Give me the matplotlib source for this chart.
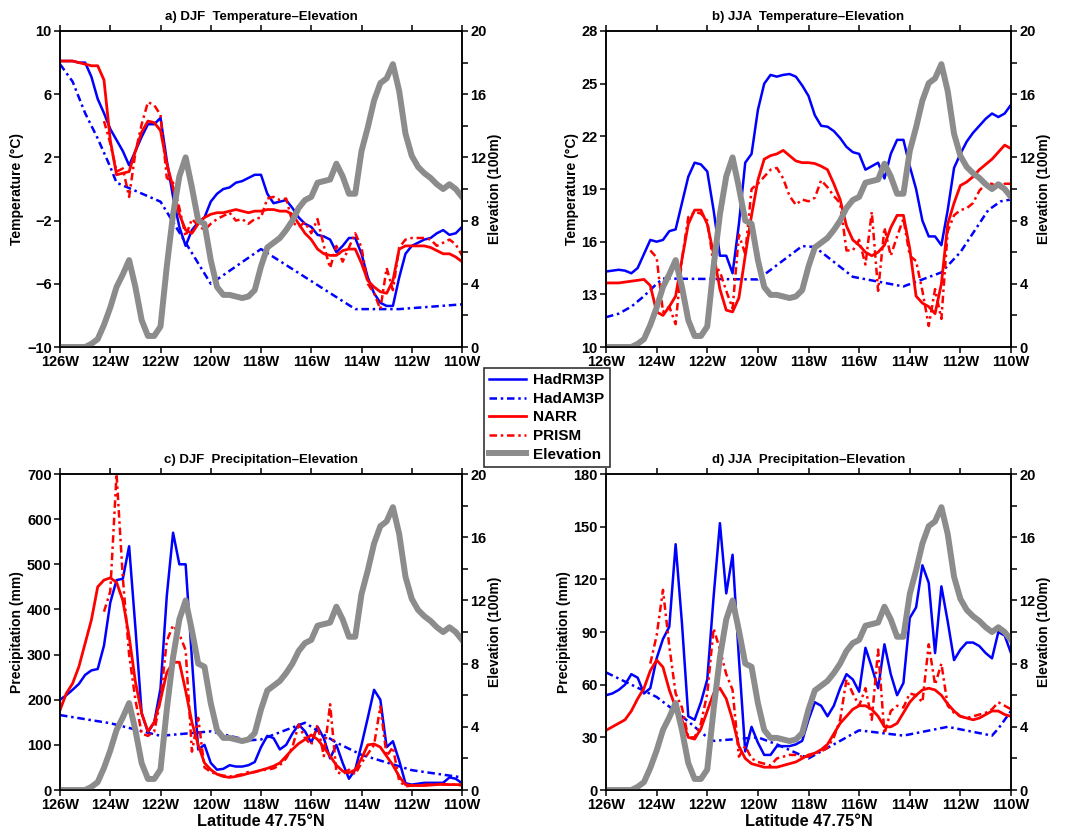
import numpy as np
import matplotlib.pyplot as plt
from matplotlib.lines import Line2D

plt.rcParams['font.family'] = ['Liberation Sans', 'DejaVu Sans']
plt.rcParams['font.weight'] = 'bold'
plt.rcParams['axes.linewidth'] = 1.1

nan = np.nan
# 0.25 degree grid along 47.75N, 126W -> 110W (one row = 2 degrees)
lon = np.linspace(-126, -110, 65)
xticks = list(range(-126, -109, 2))
xlabels = [f'{abs(v)}W' for v in xticks]

# elevation (100 m), shared by all panels
elev = [0, 0, 0, 0, 0, 0.2, 0.5, 1.4,
        2.5, 3.8, 4.6, 5.5, 3.8, 1.7, 0.7, 0.7,
        1.3, 5.1, 8.4, 10.8, 12.0, 10.1, 8.0, 7.8,
        5.5, 3.8, 3.3, 3.3, 3.2, 3.1, 3.2, 3.6,
        5.1, 6.3, 6.6, 6.9, 7.4, 8.0, 8.8, 9.3,
        9.5, 10.4, 10.5, 10.6, 11.6, 10.8, 9.7, 9.7,
        12.4, 13.9, 15.6, 16.7, 17.0, 17.9, 16.2, 13.5,
        12.1, 11.4, 11.0, 10.7, 10.3, 10.0, 10.3, 10.0,
        9.5]

# a) DJF temperature (C)
djf_t_rm = [8.1, 8.1, 8.1, 8.0, 8.0, 7.1, 5.7, 4.8,
            3.8, 3.1, 2.4, 1.5, 2.4, 3.3, 4.1, 4.1,
            4.5, 1.8, -0.5, -2.4, -3.6, -2.6, -2.1, -1.8,
            -0.8, -0.3, 0.0, 0.1, 0.4, 0.5, 0.7, 0.9,
            0.9, -0.3, -0.9, -0.8, -0.7, -1.2, -1.8, -2.2,
            -2.4, -2.9, -3.0, -3.2, -4.0, -3.6, -3.1, -3.1,
            -4.1, -5.6, -6.6, -7.2, -7.4, -7.4, -5.6, -4.1,
            -3.6, -3.4, -3.2, -3.1, -2.8, -2.6, -2.9, -2.8,
            -2.4]
djf_t_narr = [8.1, 8.1, 8.1, 8.0, 7.9, 7.8, 7.8, 6.9,
              3.1, 0.9, 1.0, 1.1, 2.4, 3.6, 4.3, 4.2,
              3.7, 1.6, 0.1, -1.6, -2.6, -2.8, -2.2, -1.8,
              -1.6, -1.5, -1.5, -1.4, -1.3, -1.4, -1.5, -1.4,
              -1.4, -1.3, -1.3, -1.4, -1.4, -1.6, -2.2, -2.8,
              -3.2, -3.8, -4.1, -4.2, -4.2, -3.9, -3.8, -3.8,
              -4.7, -5.8, -6.2, -6.5, -6.6, -5.8, -3.8, -3.6,
              -3.6, -3.6, -3.6, -3.7, -3.9, -4.1, -4.1, -4.3,
              -4.6]
djf_t_prism = [nan, nan, nan, nan, nan, nan, nan, 4.3,
               2.9, 1.1, 1.3, -0.5, 2.3, 4.1, 5.5, 5.3,
               4.7, 0.7, 0.4, -1.2, -3.0, -1.9, -2.3, -2.6,
               -2.2, -1.9, -1.7, -1.5, -2.0, -1.9, -2.2, -1.9,
               -1.8, -0.6, -0.5, -0.7, -0.6, -2.1, -2.4, -2.1,
               -2.8, -1.9, -3.6, -5.0, -3.6, -4.6, -3.7, -2.8,
               -3.7, -6.0, -6.6, -7.6, -5.0, -6.4, -3.7, -3.2,
               -3.1, -3.1, -3.1, -3.2, -3.6, -3.4, -3.2, -3.5,
               -4.2]
djf_t_am_lon = [-126, -125.5, -125, -124.5, -124, -123.75, -122, -120, -118, -114.25, -112.5, -110]
djf_t_am = [7.9, 6.8, 4.8, 3.2, 1.4, 0.4, -0.8, -6.0, -3.8, -7.6, -7.6, -7.3]

# b) JJA temperature (C)
jja_t_rm = [14.3, 14.35, 14.4, 14.35, 14.2, 14.5, 15.3, 16.1,
            16.0, 16.1, 16.6, 16.7, 18.2, 19.7, 20.5, 20.4,
            20.0, 17.8, 15.2, 15.2, 14.2, 17.0, 20.5, 21.0,
            23.5, 25.0, 25.5, 25.4, 25.5, 25.55, 25.4, 24.9,
            24.3, 23.2, 22.6, 22.55, 22.3, 21.9, 21.4, 21.1,
            21.0, 20.1, 20.3, 20.5, 19.6, 21.0, 21.8, 21.8,
            20.3, 19.0, 17.2, 16.3, 16.3, 15.8, 17.8, 20.2,
            21.0, 21.7, 22.2, 22.6, 23.0, 23.3, 23.1, 23.3,
            23.8]
jja_t_narr = [13.65, 13.65, 13.65, 13.7, 13.75, 13.8, 13.85, 13.5,
              12.0, 11.8, 12.3, 12.9, 15.0, 17.0, 17.8, 17.8,
              17.0, 15.3, 13.3, 12.1, 12.0, 12.8, 15.2, 17.5,
              19.5, 20.7, 20.9, 21.0, 21.2, 20.9, 20.6, 20.5,
              20.5, 20.45, 20.3, 20.1, 19.3, 18.4, 16.9, 16.1,
              15.8, 15.4, 15.2, 15.4, 15.8, 16.8, 17.5, 17.5,
              15.6, 12.9, 12.5, 12.3, 11.9, 13.6, 17.0, 18.2,
              19.2, 19.4, 19.7, 20.1, 20.4, 20.7, 21.1, 21.5,
              21.3]
jja_t_prism = [nan, nan, nan, nan, nan, nan, nan, 15.5,
               15.1, 12.0, 12.3, 11.3, 15.0, 17.4, 17.7, 17.6,
               17.2, 14.7, 14.3, 13.2, 12.2, 16.4, 15.3, 19.0,
               19.3, 19.7, 20.1, 20.2, 19.6, 18.6, 18.1, 18.4,
               18.3, 18.5, 19.5, 19.1, 18.6, 18.2, 15.5, 15.5,
               16.1, 14.7, 17.7, 13.2, 16.8, 15.2, 16.3, 17.3,
               15.2, 14.9, 13.2, 11.2, 13.3, 11.6, 16.6, 17.5,
               17.8, 17.9, 18.2, 18.9, 19.3, 19.3, 19.0, 19.3,
               19.3]
jja_t_am_lon = [-126, -125.5, -125, -124.5, -124, -123.75, -120, -118.25, -117.75,
                -116.25, -114.25, -112.75, -112, -110.9, -110.4, -110]
jja_t_am = [11.7, 11.9, 12.3, 12.9, 13.6, 13.9, 13.85, 15.75, 15.7,
            14.0, 13.45, 14.25, 15.4, 17.8, 18.3, 18.4]

# c) DJF precipitation (mm)
djf_p_rm = [200, 210, 222, 235, 255, 265, 268, 320,
            415, 465, 468, 540, 360, 170, 128, 150,
            225, 430, 570, 500, 500, 290, 90, 100,
            60, 45, 47, 55, 52, 52, 55, 62,
            95, 120, 115, 90, 100, 125, 145, 130,
            105, 140, 115, 70, 100, 60, 25, 45,
            100, 160, 222, 200, 95, 108, 65, 15,
            12, 14, 16, 16, 16, 16, 28, 25,
            15]
djf_p_narr = [177, 214, 236, 273, 325, 377, 450, 465,
              470, 460, 420, 340, 240, 170, 130, 150,
              200, 260, 283, 283, 220, 150, 100, 60,
              45, 35, 30, 28, 30, 33, 37, 40,
              44, 48, 53, 60, 75, 90, 103, 112,
              122, 112, 95, 75, 55, 42, 38, 45,
              70, 100, 102, 95, 75, 55, 30, 12,
              10, 10, 10, 11, 12, 13, 12, 12,
              12]
djf_p_prism = [nan, nan, nan, nan, nan, nan, nan, 395,
               440, 700, 470, 300, 200, 125, 120, 130,
               200, 330, 365, 345, 310, 85, 160, 50,
               40, 35, 32, 30, 32, 35, 40, 40,
               44, 45, 48, 55, 70, 95, 145, 115,
               100, 145, 75, 190, 40, 35, 45, 35,
               60, 80, 100, 185, 75, 95, 20, 8,
               10, 10, 12, 12, 12, 12, 12, 12,
               10]
djf_p_am_lon = [-126, -124, -122, -120, -118.5, -118, -116.25, -115, -114, -112, -110]
djf_p_am = [166, 148, 120, 130, 110, 112, 149, 105, 78, 44, 28]

# d) JJA precipitation (mm)
jja_p_rm = [54, 55, 57, 60, 66, 64, 55, 58,
            75, 86, 93, 140, 95, 42, 40, 50,
            63, 110, 152, 112, 134, 75, 22, 36,
            27, 20, 20, 25, 25, 25, 26, 28,
            40, 50, 48, 42, 48, 58, 66, 63,
            56, 81, 70, 58, 83, 66, 54, 61,
            98, 104, 128, 118, 78, 116, 96, 74,
            80, 84, 84, 82, 78, 75, 90, 88,
            78]
jja_p_narr = [34, 36, 38, 40, 45, 52, 58, 68,
              74, 70, 57, 47, 40, 30, 29, 35,
              45, 55, 58, 52, 40, 25, 18, 15,
              14, 13, 13, 13, 14, 15, 16, 18,
              20, 21, 23, 26, 32, 38, 42, 46,
              48, 48, 46, 42, 36, 36, 38, 44,
              50, 54, 57, 58, 57, 54, 49, 45,
              42, 41, 40, 41, 43, 45, 45, 43,
              42]
jja_p_prism = [nan, nan, nan, nan, nan, nan, nan, 72,
               88, 114, 82, 55, 47, 30, 30, 38,
               55, 92, 80, 66, 57, 19, 25, 18,
               16, 15, 14, 18, 19, 20, 20, 19,
               19, 21, 22, 24, 30, 40, 63, 55,
               48, 58, 40, 80, 32, 45, 48, 47,
               55, 54, 50, 83, 60, 72, 48, 44,
               42, 41, 42, 43, 44, 46, 50, 48,
               46]
jja_p_am_lon = [-126, -124, -123, -122, -121.75, -120, -119.25, -118, -117.25, -116,
                -114.25, -112.5, -110.75, -110.5, -110]
jja_p_am = [67, 53, 42, 30, 28, 30, 26, 18, 24, 34, 31, 36, 31, 35, 45]

dashdot = (0, (3, 1.5, 1, 1.5))
grey = '#8c8c8c'

fig = plt.figure(figsize=(10.66, 8.31), dpi=100)


def panel(rect, title, rm, am_lon, am, narr, prism, ylim, yticks, ylabel, xlabel=None):
    ax = fig.add_axes(rect)
    ax.plot(lon, rm, color='blue', lw=1.8)
    ax.plot(am_lon, am, color='blue', lw=1.8, ls=dashdot)
    ax.plot(lon, narr, color='red', lw=2.0)
    ax.plot(lon, prism, color='red', lw=1.8, ls=dashdot)
    ax.set_xlim(-126, -110)
    ax.set_ylim(*ylim)
    ax.set_xticks(xticks)
    ax.set_xticklabels(xlabels)
    ax.set_yticks(yticks)
    ax.tick_params(labelsize=10.5, direction='out', length=4, width=1.1, top=True, pad=2)
    ax.set_ylabel(ylabel, fontsize=10, fontweight='bold', labelpad=2)
    ax.set_title(title, fontsize=9.5, fontweight='bold', pad=8)
    if xlabel:
        ax.set_xlabel(xlabel, fontsize=11.8, fontweight='bold', labelpad=1)

    ax2 = ax.twinx()
    ax2.plot(lon, elev, color=grey, lw=4.3)
    ax2.set_ylim(0, 20)
    ax2.set_yticks([0, 4, 8, 12, 16, 20])
    ax2.set_yticks([2, 6, 10, 14, 18], minor=True)
    ax2.tick_params(labelsize=10.5, direction='out', length=4, width=1.1, pad=2)
    ax2.tick_params(which='minor', direction='out', length=4, width=1.1)
    ax2.set_ylabel('Elevation (100m)', fontsize=10, fontweight='bold', labelpad=1)
    return ax


panel([0.0563, 0.5824, 0.3771, 0.3803], 'a) DJF  Temperature\u2013Elevation',
      djf_t_rm, djf_t_am_lon, djf_t_am, djf_t_narr, djf_t_prism,
      (-10, 10), [-10, -6, -2, 2, 6, 10], 'Temperature (\u00b0C)')
panel([0.5685, 0.5824, 0.3799, 0.3803], 'b) JJA  Temperature\u2013Elevation',
      jja_t_rm, jja_t_am_lon, jja_t_am, jja_t_narr, jja_t_prism,
      (10, 28), [10, 13, 16, 19, 22, 25, 28], 'Temperature (\u00b0C)')
panel([0.0563, 0.0493, 0.3771, 0.3803], 'c) DJF  Precipitation\u2013Elevation',
      djf_p_rm, djf_p_am_lon, djf_p_am, djf_p_narr, djf_p_prism,
      (0, 700), list(range(0, 701, 100)), 'Precipitation (mm)', 'Latitude 47.75\u00b0N')
panel([0.5685, 0.0493, 0.3799, 0.3803], 'd) JJA  Precipitation\u2013Elevation',
      jja_p_rm, jja_p_am_lon, jja_p_am, jja_p_narr, jja_p_prism,
      (0, 180), list(range(0, 181, 30)), 'Precipitation (mm)', 'Latitude 47.75\u00b0N')

handles = [Line2D([], [], color='blue', lw=1.8),
           Line2D([], [], color='blue', lw=1.8, ls=dashdot),
           Line2D([], [], color='red', lw=2.0),
           Line2D([], [], color='red', lw=1.8, ls=dashdot),
           Line2D([], [], color=grey, lw=4.3)]
names = ['HadRM3P', 'HadAM3P', 'NARR', 'PRISM', 'Elevation']
leg = fig.legend(handles, names, loc='center', bbox_to_anchor=(0.513, 0.4976),
                 fontsize=11, frameon=True, fancybox=False, edgecolor='black',
                 handlelength=2.4, handletextpad=0.5, borderpad=0.35,
                 labelspacing=0.3, borderaxespad=0)
leg.get_frame().set_linewidth(1.2)

fig.savefig('out.png', dpi=100)
